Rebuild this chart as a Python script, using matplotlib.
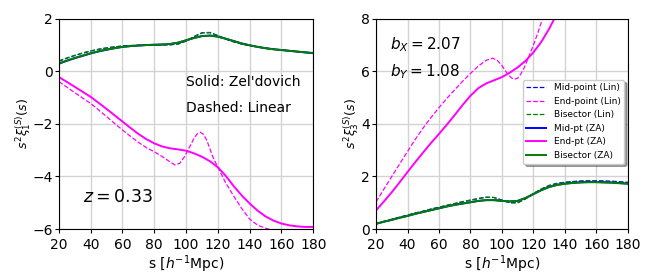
import numpy as np
import matplotlib
matplotlib.use("Agg")
import matplotlib.pyplot as plt

# separations (h^-1 Mpc)
s = [20, 25, 30, 35, 40, 45, 50, 55, 60, 65, 70, 75, 80, 85, 90, 95, 100,
     105, 110, 115, 120, 125, 130, 135, 140, 145, 150, 155, 160, 165, 170, 175, 180]

# dipole xi_1, left panel
xi1_bis_za = [0.30, 0.41, 0.51, 0.60, 0.69, 0.76, 0.83, 0.88, 0.93, 0.96, 0.98, 1.00, 1.01,
              1.02, 1.04, 1.09, 1.18, 1.27, 1.34, 1.36, 1.32, 1.24, 1.15, 1.06, 0.99, 0.93,
              0.88, 0.84, 0.81, 0.78, 0.75, 0.72, 0.70]
xi1_bis_lin = [0.40, 0.51, 0.61, 0.70, 0.78, 0.84, 0.89, 0.93, 0.96, 0.98, 0.99, 1.00, 1.01,
               1.01, 1.01, 1.04, 1.15, 1.32, 1.47, 1.48, 1.36, 1.23, 1.12, 1.04, 0.98, 0.93,
               0.88, 0.84, 0.81, 0.78, 0.75, 0.72, 0.70]
xi1_mid_za = [0.29, 0.40, 0.50, 0.59, 0.68, 0.76, 0.82, 0.88, 0.93, 0.96, 0.98, 1.00, 1.01,
              1.02, 1.04, 1.09, 1.18, 1.27, 1.34, 1.36, 1.32, 1.24, 1.15, 1.06, 0.99, 0.93,
              0.88, 0.84, 0.81, 0.78, 0.75, 0.72, 0.69]
xi1_mid_lin = [0.38, 0.50, 0.60, 0.69, 0.77, 0.84, 0.89, 0.93, 0.96, 0.98, 0.99, 1.00, 1.01,
               1.01, 1.01, 1.04, 1.15, 1.32, 1.46, 1.47, 1.36, 1.23, 1.12, 1.04, 0.98, 0.93,
               0.88, 0.84, 0.81, 0.78, 0.75, 0.72, 0.69]
xi1_end_za = [-0.22, -0.40, -0.59, -0.78, -0.97, -1.20, -1.43, -1.67, -1.91, -2.15, -2.38,
              -2.58, -2.74, -2.86, -2.93, -2.97, -3.02, -3.12, -3.25, -3.42, -3.65, -3.98,
              -4.37, -4.72, -5.03, -5.30, -5.52, -5.68, -5.79, -5.86, -5.90, -5.92, -5.92]

s_end1 = [20, 25, 30, 35, 40, 45, 50, 55, 60, 65, 70, 75, 80, 85, 90, 93, 96, 99, 102, 105,
          107, 109, 111, 113, 115, 117, 120, 125, 130, 135, 140, 145, 150, 155, 160, 170, 180]
xi1_end_lin = [-0.39, -0.60, -0.81, -1.02, -1.22, -1.47, -1.72, -1.98, -2.23, -2.47, -2.70,
               -2.90, -3.06, -3.24, -3.45, -3.56, -3.50, -3.25, -2.90, -2.55, -2.38, -2.32,
               -2.40, -2.62, -2.95, -3.28, -3.65, -4.25, -4.75, -5.22, -5.62, -5.85, -5.97,
               -6.05, -6.10, -6.14, -6.15]

# octupole xi_3, right panel
xi3_bis_za = [0.20, 0.28, 0.35, 0.43, 0.50, 0.58, 0.65, 0.72, 0.79, 0.86, 0.92, 0.97, 1.02,
              1.07, 1.10, 1.10, 1.07, 1.05, 1.07, 1.18, 1.33, 1.48, 1.60, 1.68, 1.72, 1.75,
              1.77, 1.78, 1.78, 1.77, 1.76, 1.74, 1.72]
xi3_bis_lin = [0.20, 0.29, 0.37, 0.45, 0.53, 0.61, 0.68, 0.76, 0.83, 0.90, 0.97, 1.04, 1.10,
               1.16, 1.21, 1.20, 1.10, 1.00, 1.00, 1.15, 1.35, 1.52, 1.65, 1.73, 1.77, 1.80,
               1.81, 1.82, 1.82, 1.81, 1.80, 1.78, 1.76]
xi3_mid_za = [0.20, 0.28, 0.35, 0.43, 0.50, 0.58, 0.65, 0.72, 0.79, 0.86, 0.92, 0.97, 1.02,
              1.07, 1.10, 1.10, 1.07, 1.05, 1.07, 1.18, 1.33, 1.48, 1.60, 1.68, 1.73, 1.76,
              1.78, 1.79, 1.79, 1.78, 1.77, 1.75, 1.73]
xi3_mid_lin = [0.20, 0.29, 0.37, 0.45, 0.53, 0.61, 0.68, 0.76, 0.83, 0.90, 0.97, 1.04, 1.10,
               1.16, 1.21, 1.20, 1.10, 1.00, 1.00, 1.15, 1.35, 1.52, 1.66, 1.74, 1.78, 1.81,
               1.83, 1.84, 1.84, 1.83, 1.82, 1.80, 1.78]

s_end3za = [20, 25, 30, 35, 40, 45, 50, 55, 60, 65, 70, 75, 80, 85, 90, 95, 100, 105, 110,
            115, 120, 125, 130, 135, 140]
xi3_end_za = [0.71, 1.05, 1.40, 1.78, 2.17, 2.55, 2.92, 3.28, 3.62, 3.97, 4.34, 4.72, 5.07,
              5.36, 5.54, 5.66, 5.78, 5.95, 6.15, 6.40, 6.72, 7.12, 7.62, 8.20, 8.80]
s_end3lin = [20, 25, 30, 35, 40, 45, 50, 55, 60, 65, 70, 75, 80, 85, 90, 94, 97, 100, 103,
             106, 108, 110, 112, 114, 116, 118, 120, 123, 126, 130]
xi3_end_lin = [1.03, 1.52, 2.00, 2.48, 2.95, 3.42, 3.85, 4.25, 4.62, 4.97, 5.30, 5.62, 5.92,
               6.20, 6.42, 6.50, 6.42, 6.22, 5.95, 5.75, 5.70, 5.74, 5.90, 6.12, 6.40, 6.70,
               7.00, 7.50, 8.05, 8.70]

xticks = [20, 40, 60, 80, 100, 120, 140, 160, 180]

fig = plt.figure(figsize=(6.54, 2.8), dpi=100)
ax1 = fig.add_axes([0.090, 0.182, 0.389, 0.751])
ax2 = fig.add_axes([0.575, 0.182, 0.385, 0.751])

lw_d, lw_s = 0.9, 1.4
for ax, mid_l, end_l, bis_l, mid_z, end_z, bis_z, sl, sz in [
        (ax1, xi1_mid_lin, xi1_end_lin, xi1_bis_lin, xi1_mid_za, xi1_end_za, xi1_bis_za, s_end1, s),
        (ax2, xi3_mid_lin, xi3_end_lin, xi3_bis_lin, xi3_mid_za, xi3_end_za, xi3_bis_za, s_end3lin, s_end3za)]:
    ax.plot(s, mid_l, '--', color='b', lw=lw_d, label='Mid-point (Lin)')
    ax.plot(sl, end_l, '--', color='magenta', lw=lw_d, label='End-point (Lin)')
    ax.plot(s, bis_l, '--', color='g', lw=lw_d, label='Bisector (Lin)')
    ax.plot(s, mid_z, '-', color='b', lw=lw_s, label='Mid-pt (ZA)')
    ax.plot(sz, end_z, '-', color='magenta', lw=lw_s, label='End-pt (ZA)')
    ax.plot(s, bis_z, '-', color='g', lw=lw_s, label='Bisector (ZA)')
    ax.set_xlim(20, 180)
    ax.set_xticks(xticks)
    ax.grid(True, color='#d3d3d3', lw=1.0)
    ax.tick_params(labelsize=10, length=3)
    ax.tick_params(axis='y', pad=1.5)
    ax.set_xlabel(r's [$h^{-1}$Mpc)', fontsize=10, labelpad=1)

ax1.set_ylim(-6, 2)
ax1.set_yticks([-6, -4, -2, 0, 2])
ax1.set_ylabel(r'$s^2\xi_1^{(S)}(s)$', fontsize=9)
ax1.yaxis.set_label_coords(-0.1, 0.5)
ax1.text(100, -0.4, "Solid: Zel'dovich", fontsize=10, va='center')
ax1.text(100, -1.4, "Dashed: Linear", fontsize=10, va='center')
ax1.text(35, -4.8, r'$z = 0.33$', fontsize=12.5, va='center')

ax2.set_ylim(0, 8)
ax2.set_yticks([0, 2, 4, 6, 8])
ax2.set_ylabel(r'$s^2\xi_3^{(S)}(s)$', fontsize=9)
ax2.yaxis.set_label_coords(-0.06, 0.5)
ax2.text(29, 7.0, r'$b_X = 2.07$', fontsize=11, va='center')
ax2.text(29, 6.0, r'$b_Y = 1.08$', fontsize=11, va='center')
ax2.legend(loc='upper right', bbox_to_anchor=(0.985, 0.71), borderaxespad=0,
           fontsize=6.5, shadow=True, handlelength=2.2)

fig.savefig('out.png', dpi=100)
